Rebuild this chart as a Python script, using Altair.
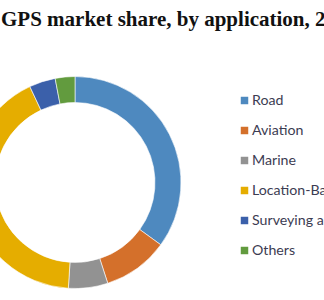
import altair as alt
import pandas as pd

title_text = "GPS market share, by application, 2013"
categories = ["Road", "Aviation", "Marine", "Location-Based Services", "Surveying and Mapping", "Others"]
shares = [35, 10, 6, 42, 4, 3]
colors = ["#4E89BF", "#D4702B", "#929292", "#E5AD00", "#3B60AA", "#629B3E"]

df = pd.DataFrame({"cat": categories, "share": shares, "idx": list(range(len(categories)))})
color_scale = alt.Scale(domain=categories, range=colors)

base = alt.Chart(df)

donut = base.mark_arc(stroke="white", strokeWidth=0.6).encode(
    theta=alt.Theta("share:Q", stack=True),
    order=alt.Order("idx:Q"),
    color=alt.Color("cat:N", scale=color_scale, legend=None),
    x=alt.value(75),
    y=alt.value(182.5),
    radius=alt.value(106),
    radius2=alt.value(80),
)

ypos = alt.Y("cat:N", sort=categories, scale=alt.Scale(type="point", range=[100.5, 250.5], padding=0), axis=None)

squares = base.mark_square(opacity=1, size=56).encode(
    x=alt.value(244.5),
    y=ypos,
    color=alt.Color("cat:N", scale=color_scale, legend=None),
)

labels = base.mark_text(align="left", baseline="middle", font="Lato", fontSize=14.2, color="#3C3C52").encode(
    x=alt.value(252),
    y=ypos,
    text="cat:N",
)

title = alt.Chart(pd.DataFrame({"t": [title_text]})).mark_text(
    align="left", baseline="alphabetic", font="Liberation Serif", fontWeight="bold", fontSize=21, color="#111111"
).encode(x=alt.value(1), y=alt.value(26), text="t:N")

chart = alt.layer(donut, squares, labels, title).properties(
    width=324, height=300, padding=0, autosize=alt.AutoSizeParams(type="none")
).configure_view(stroke=None)

chart.save("out.html", embed_options={"renderer": "svg", "actions": False})
